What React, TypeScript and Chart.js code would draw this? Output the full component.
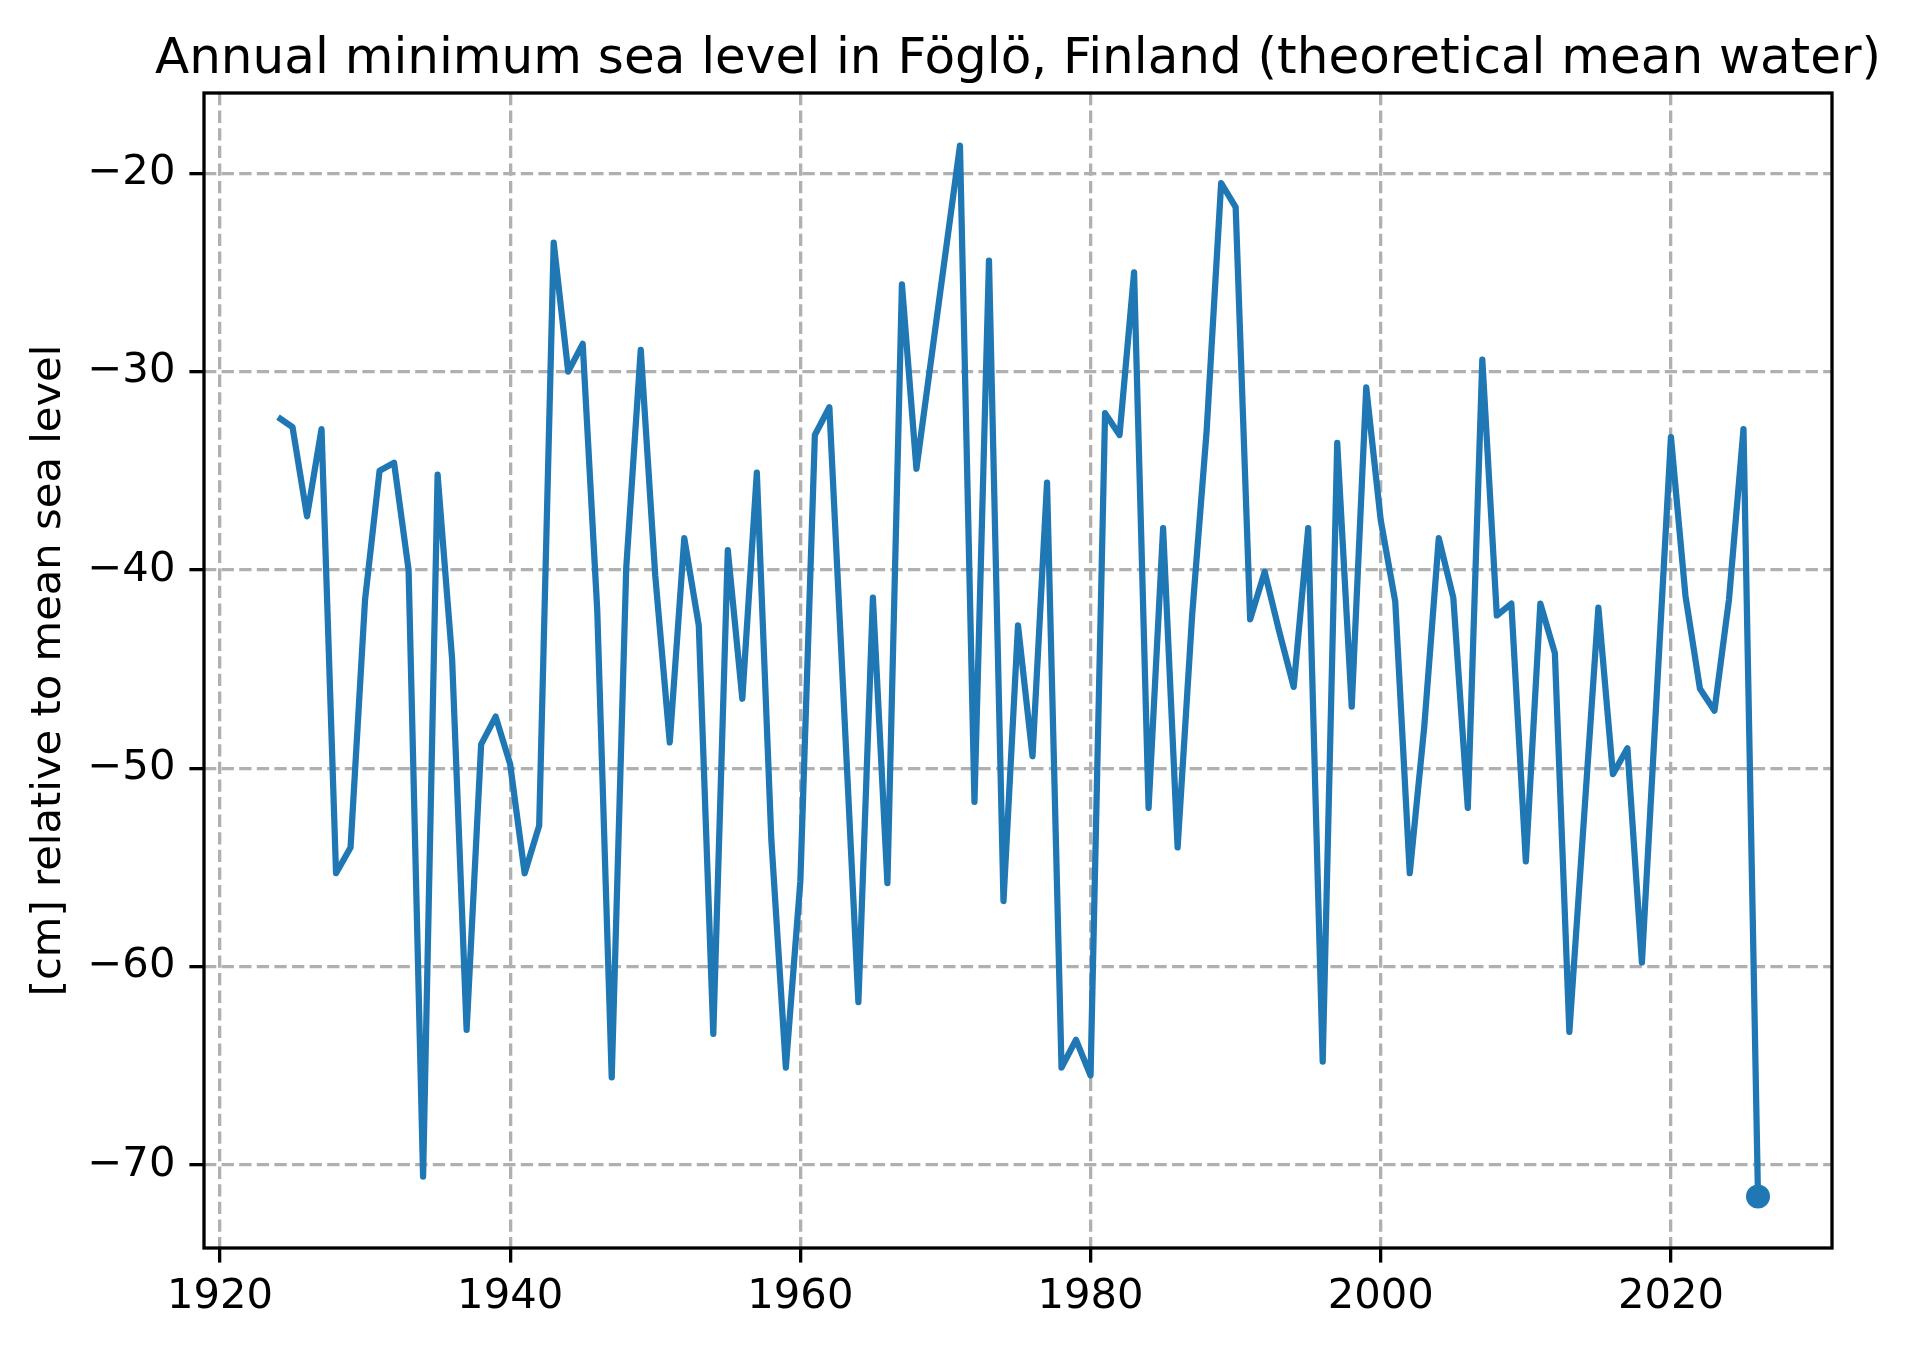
import React, { useEffect, useRef } from 'react';
import { Chart, registerables } from 'chart.js';

Chart.register(...registerables);

// Years with an observed annual minimum (gaps are years without a value)
const years = [
  1924, 1925, 1926, 1927, 1928, 1929, 1930, 1931, 1932, 1933,
  1934, 1935, 1936, 1937, 1938, 1939, 1940, 1941, 1942, 1943,
  1944, 1945, 1946, 1947, 1948, 1949, 1950, 1951, 1952, 1953,
  1954, 1955, 1956, 1957, 1958, 1959, 1960, 1961, 1962,
  1964, 1965, 1966, 1967, 1968,
  1971, 1972, 1973, 1974, 1975, 1976, 1977, 1978, 1979, 1980,
  1981, 1982, 1983, 1984, 1985, 1986, 1987, 1988, 1989, 1990,
  1991, 1992, 1993, 1994, 1995, 1996, 1997, 1998, 1999, 2000,
  2001, 2002, 2003, 2004, 2005, 2006, 2007, 2008, 2009, 2010,
  2011, 2012, 2013, 2015, 2016, 2017, 2018,
  2020, 2021, 2022, 2023, 2024, 2025, 2026,
];

// Annual minimum sea level [cm] relative to theoretical mean water
const minLevels = [
  -32.3, -32.8, -37.3, -32.9, -55.3, -54.0, -41.5, -35.0, -34.6, -40.0,
  -70.6, -35.2, -44.5, -63.2, -48.8, -47.4, -49.8, -55.3, -52.9, -23.5,
  -30.0, -28.6, -42.0, -65.6, -39.9, -28.9, -40.3, -48.7, -38.4, -42.8,
  -63.4, -39.0, -46.5, -35.1, -53.6, -65.1, -55.7, -33.2, -31.8,
  -61.8, -41.4, -55.8, -25.6, -34.9,
  -18.6, -51.7, -24.4, -56.7, -42.8, -49.4, -35.6, -65.1, -63.7, -65.5,
  -32.1, -33.2, -25.0, -52.0, -37.9, -54.0, -42.3, -33.0, -20.5, -21.7,
  -42.5, -40.1, -43.1, -45.9, -37.9, -64.8, -33.6, -46.9, -30.8, -37.5,
  -41.6, -55.3, -47.9, -38.4, -41.4, -52.0, -29.4, -42.3, -41.7, -54.7,
  -41.7, -44.2, -63.3, -41.9, -50.3, -49.0, -59.8,
  -33.3, -41.3, -46.0, -47.1, -41.5, -32.9, -71.6,
];

const xTicks = [1920, 1940, 1960, 1980, 2000, 2020];
const yTicks = [-70, -60, -50, -40, -30, -20];

const titleText = 'Annual minimum sea level in Föglö, Finland (theoretical mean water)';
const yLabel = '[cm] relative to mean sea level';

const FONT = 'DejaVu Sans';
const LINE_BLUE = '#1f77b4';

const fmt = (v: number | string) => {
  const n = Number(v);
  return n < 0 ? '\u2212' + Math.abs(n) : String(n);
};

export default function App() {
  const ref = useRef<HTMLCanvasElement>(null);

  useEffect(() => {
    document.body.style.margin = '0';
    const canvas = ref.current;
    if (!canvas) return;

    const points = years.map((yr, i) => ({ x: yr, y: minLevels[i] }));
    const last = points.length - 1;

    // axes frame (all four spines) and the title centred over the axes
    const frame = {
      id: 'frame',
      afterDatasetsDraw(chart: any) {
        const { ctx, chartArea } = chart;
        ctx.save();
        ctx.strokeStyle = '#000';
        ctx.lineWidth = 3.3;
        ctx.setLineDash([]);
        ctx.strokeRect(chartArea.left, chartArea.top, chartArea.right - chartArea.left, chartArea.bottom - chartArea.top);
        ctx.restore();
      },
      afterDraw(chart: any) {
        const { ctx, chartArea } = chart;
        ctx.save();
        ctx.fillStyle = '#000';
        ctx.font = `normal 50px "${FONT}"`;
        ctx.textAlign = 'center';
        ctx.textBaseline = 'middle';
        ctx.fillText(titleText, (chartArea.left + chartArea.right) / 2, 60);
        ctx.restore();
      },
    };

    const gridCommon = {
      color: '#b0b0b0',
      lineWidth: 3.3,
      drawTicks: true,
      tickColor: '#000',
      tickWidth: 3.3,
      tickLength: 14.6,
    };

    const chart = new Chart(canvas, {
      type: 'line',
      data: {
        datasets: [
          {
            data: points,
            borderColor: LINE_BLUE,
            backgroundColor: LINE_BLUE,
            borderWidth: 6.25,
            borderJoinStyle: 'round',
            borderCapStyle: 'butt',
            tension: 0,
            fill: false,
            pointRadius: (c: any) => (c.dataIndex === last ? 12 : 0),
            pointHoverRadius: (c: any) => (c.dataIndex === last ? 12 : 0),
            pointBorderWidth: 0,
            pointBackgroundColor: LINE_BLUE,
          } as any,
        ],
      },
      options: {
        responsive: false,
        animation: false,
        devicePixelRatio: 1,
        events: [],
        layout: { padding: { left: 0, right: 79, top: 93, bottom: 0 } },
        plugins: {
          legend: { display: false },
          tooltip: { enabled: false },
          title: { display: false },
        },
        scales: {
          x: {
            type: 'linear',
            min: 1918.9,
            max: 2031.1,
            afterBuildTicks: (s: any) => {
              s.ticks = xTicks.map((v) => ({ value: v }));
            },
            afterFit: (s: any) => {
              s.height = 99;
            },
            grid: gridCommon,
            border: { display: false, dash: [12.3, 5.3] },
            ticks: {
              color: '#000',
              font: { family: FONT, size: 41.7 },
              padding: 10,
              autoSkip: false,
              maxRotation: 0,
              callback: (v: any) => String(v),
            },
          },
          y: {
            type: 'linear',
            min: -74.2,
            max: -15.95,
            afterBuildTicks: (s: any) => {
              s.ticks = yTicks.map((v) => ({ value: v }));
            },
            afterFit: (s: any) => {
              s.width = 204;
            },
            grid: gridCommon,
            border: { display: false, dash: [12.3, 5.3] },
            ticks: {
              color: '#000',
              font: { family: FONT, size: 41.7 },
              padding: 14,
              autoSkip: false,
              callback: (v: any) => fmt(v),
            },
            title: {
              display: true,
              text: yLabel,
              color: '#000',
              font: { family: FONT, size: 41.7 },
              padding: { top: 24, bottom: 0 },
            },
          },
        },
      } as any,
      plugins: [frame],
    });

    return () => chart.destroy();
  }, []);

  return <canvas ref={ref} width={1911} height={1347} style={{ display: 'block' }} />;
}
